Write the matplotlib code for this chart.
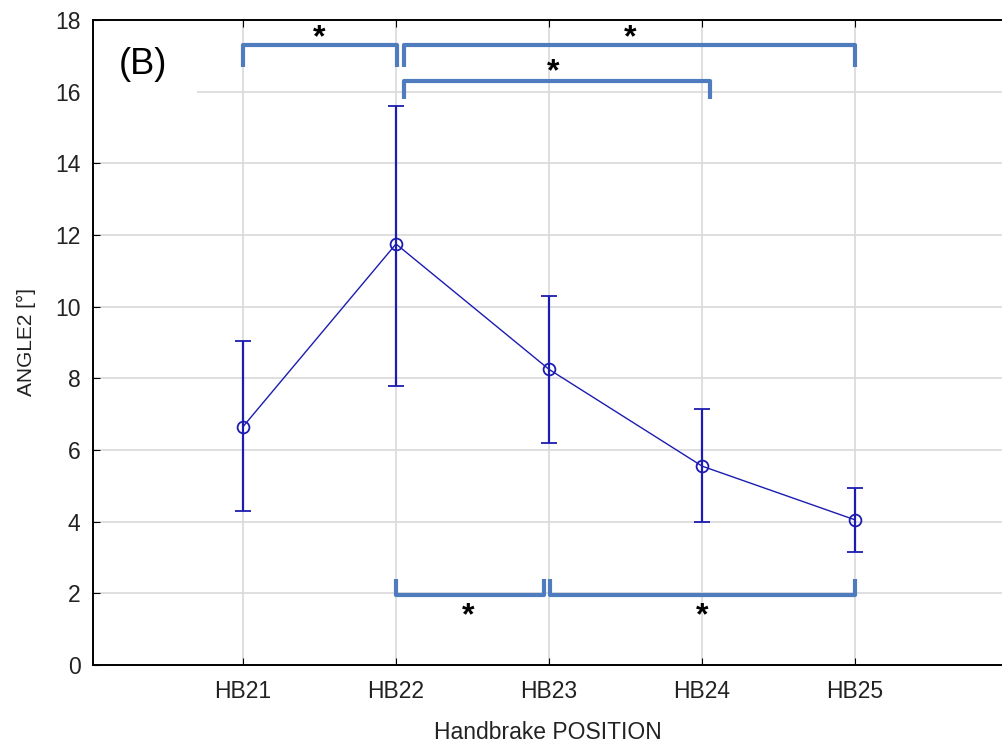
import numpy as np
import matplotlib.pyplot as plt
from matplotlib.patches import Rectangle

plt.rcParams['font.family'] = ['Liberation Sans', 'DejaVu Sans']

positions = ['HB21', 'HB22', 'HB23', 'HB24', 'HB25']
means = [6.65, 11.75, 8.25, 5.55, 4.05]
lower = [4.3, 7.8, 6.2, 4.0, 3.15]
upper = [9.05, 15.6, 10.3, 7.15, 4.95]

# significance brackets: start, end, bar level, leg tip
br_start = [0, 1.05, 1.05, 1, 2.005]
br_end = [1.005, 4, 3.05, 1.97, 4]
br_level = [17.3, 17.3, 16.3, 1.95, 1.95]
br_tip = [16.7, 16.7, 15.8, 2.4, 2.4]

stars_x = [0.5, 2.53, 2.03, 1.47, 3.0]
stars_y = [17.5, 17.5, 16.55, 1.35, 1.35]

x = np.arange(len(positions))
means = np.array(means)
yerr = [means - np.array(lower), np.array(upper) - means]

fig = plt.figure(figsize=(10.02, 7.45), dpi=100)
ax = fig.add_axes([93/1002, 80/745, 909/1002, 645/745])

ax.errorbar(x, means, yerr=yerr, color='#1c1cb0', lw=1.0, elinewidth=1.6,
            capsize=5.5, capthick=1.6, marker='o', ms=8.5, mfc='none',
            mec='#1c1cb0', mew=1.3, zorder=3)

ax.set_xlim(-0.98, 4.96)
ax.set_ylim(0, 18)
ax.set_yticks(np.arange(0, 19, 2))
ax.set_xticks(x)
ax.set_xticklabels(positions)
ax.grid(True, color='#d9d9d9', lw=1.2)
ax.set_axisbelow(True)
ax.tick_params(direction='in', top=True, length=5, labelsize=16.5,
               labelcolor='#222222', pad=11)
ax.tick_params(axis='y', pad=9)
ax.spines['right'].set_visible(False)
for s in ['left', 'bottom', 'top']:
    ax.spines[s].set_linewidth(1.4)

for a, b, lev, tip in zip(br_start, br_end, br_level, br_tip):
    ax.plot([a, a, b, b], [tip, lev, lev, tip], color='#4f7bbf', lw=3,
            solid_capstyle='butt', zorder=4)

for sx, sy in zip(stars_x, stars_y):
    ax.text(sx, sy, '*', fontsize=23, fontweight='bold', ha='center',
            va='center', zorder=5)

ax.add_patch(Rectangle((-0.98, 15.6), 0.68, 2.35, facecolor='white',
                       edgecolor='none', zorder=1))
ax.text(-0.81, 16.75, '(B)', fontsize=26, ha='left', va='center', zorder=5)

ax.set_xlabel('Handbrake POSITION', fontsize=16.5, color='#222222', labelpad=13)
ax.set_ylabel('ANGLE2 [°]', fontsize=15, color='#222222', labelpad=14)

fig.savefig('out.png', dpi=100)
